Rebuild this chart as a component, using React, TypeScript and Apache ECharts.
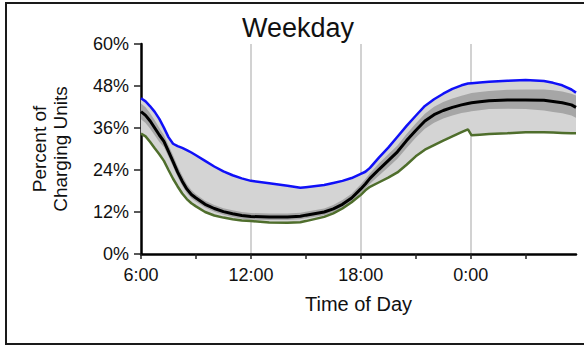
import React, { useEffect, useRef } from 'react';
import * as echarts from 'echarts';

// Hours elapsed since 6:00
const HOURS = [0, 0.25, 0.5, 0.75, 1, 1.25, 1.5, 1.75, 2, 2.25, 2.5, 2.75, 3, 3.5, 4, 4.5, 5, 5.5, 6, 7, 8, 8.7, 9, 10, 10.5, 11, 11.5, 12, 12.25, 12.5, 13, 13.5, 14, 14.5, 15, 15.5, 16, 16.5, 17, 17.5, 17.85, 18.05, 18.5, 19, 20, 21, 22, 22.5, 23, 23.5, 23.75];

// Upper bound (blue)
const UPPER = [44.5, 43.6, 42.2, 40.6, 38.6, 36.1, 33.4, 31.5, 30.8, 30.3, 29.7, 29.0, 28.2, 26.6, 25.0, 23.6, 22.5, 21.6, 20.9, 20.2, 19.5, 18.9, 19.1, 19.7, 20.3, 20.9, 21.7, 22.9, 23.5, 24.6, 27.6, 30.4, 33.5, 36.6, 39.5, 42.3, 44.2, 45.8, 47.2, 48.2, 48.7, 48.8, 49.0, 49.2, 49.5, 49.7, 49.4, 48.9, 48.2, 47.0, 46.1];

// Median (black)
const MEDIAN = [40.7, 39.6, 38.0, 36.0, 34.0, 32.2, 29.3, 26.4, 23.4, 20.8, 18.6, 17.0, 16.0, 14.2, 13.0, 12.1, 11.5, 11.0, 10.7, 10.6, 10.6, 10.8, 11.1, 12.0, 12.9, 14.2, 16.0, 18.6, 20.0, 21.6, 24.2, 26.7, 29.2, 32.4, 35.3, 38.0, 39.8, 41.0, 41.9, 42.6, 43.0, 43.2, 43.5, 43.8, 44.0, 44.0, 43.9, 43.6, 43.2, 42.6, 41.9];

// Lower bound (green)
const LOWER = [34.4, 33.6, 32.0, 30.2, 28.5, 26.6, 24.0, 21.5, 19.3, 17.3, 15.7, 14.5, 13.6, 12.0, 11.0, 10.4, 9.9, 9.6, 9.4, 9.0, 8.9, 9.1, 9.4, 10.6, 11.6, 13.0, 14.8, 16.9, 18.2, 19.2, 20.5, 21.8, 23.3, 25.5, 27.9, 29.8, 31.1, 32.4, 33.6, 34.8, 35.6, 33.9, 34.1, 34.3, 34.5, 34.8, 34.8, 34.7, 34.6, 34.5, 34.5];

// Inner band around the median (dark gray)
const BAND_HI = [43.0, 41.9, 40.2, 38.2, 36.0, 34.0, 31.1, 28.2, 25.1, 22.4, 20.0, 18.3, 17.1, 15.2, 14.0, 13.1, 12.5, 12.0, 11.7, 11.6, 11.6, 11.8, 12.1, 13.0, 14.0, 15.4, 17.2, 19.9, 21.4, 23.1, 25.9, 28.5, 31.0, 34.3, 37.3, 40.1, 42.1, 43.4, 44.4, 45.2, 45.7, 46.0, 46.3, 46.6, 46.9, 47.0, 47.0, 46.8, 46.4, 45.8, 45.3];
const BAND_LO = [38.5, 37.4, 35.8, 33.9, 32.0, 30.6, 27.8, 24.9, 22.0, 19.5, 17.4, 15.9, 15.0, 13.3, 12.1, 11.2, 10.6, 10.1, 9.8, 9.7, 9.7, 9.9, 10.2, 11.1, 11.9, 13.0, 14.8, 17.4, 18.7, 20.1, 22.4, 24.8, 27.2, 30.3, 33.2, 35.8, 37.5, 38.7, 39.6, 40.3, 40.6, 40.8, 41.1, 41.4, 41.5, 41.4, 41.0, 40.6, 40.2, 39.6, 38.9];

const X_TICKS = [0, 3, 6, 9, 12, 15, 18, 21];
const X_LABEL_VALUES = [0, 6, 12, 18];
const X_LABELS = ['6:00', '12:00', '18:00', '0:00'];
const GRID_HOURS = [6, 12, 18];
const TITLE = 'Weekday';
const X_NAME = 'Time of Day';
const Y_NAME = 'Percent of\nCharging Units';

const FONT = '"Liberation Sans", Arial, Helvetica, sans-serif';

function bandSeries(lo: number[], hi: number[], color: string, z: number) {
  return {
    type: 'custom',
    coordinateSystem: 'cartesian2d',
    z,
    silent: true,
    clip: true,
    data: HOURS.map((h, i) => [h, lo[i], hi[i]]),
    encode: { x: 0, y: [1, 2] },
    renderItem: (params: any, api: any) => {
      if (params.dataIndex !== 0) return { type: 'group', children: [] };
      const pts: number[][] = [];
      for (let i = 0; i < HOURS.length; i++) pts.push(api.coord([HOURS[i], hi[i]]));
      for (let i = HOURS.length - 1; i >= 0; i--) pts.push(api.coord([HOURS[i], lo[i]]));
      return { type: 'polygon', shape: { points: pts }, style: { fill: color } };
    },
  };
}

function lineSeries(name: string, values: number[], color: string, width: number, z: number) {
  return {
    type: 'line',
    name,
    z,
    silent: true,
    showSymbol: false,
    symbol: 'none',
    data: HOURS.map((h, i) => [h, values[i]]),
    lineStyle: { color, width },
    itemStyle: { color },
  };
}

export default function App() {
  const ref = useRef<HTMLDivElement>(null);
  useEffect(() => {
    if (!ref.current) return;
    const chart = echarts.init(ref.current, undefined, { renderer: 'svg' });
    chart.setOption({
      animation: false,
      backgroundColor: '#ffffff',
      textStyle: { fontFamily: FONT },
      grid: { left: 141, top: 44, width: 435, height: 210, containLabel: false, outerBoundsMode: 'none' },
      xAxis: {
        type: 'value',
        min: 0,
        max: 23.75,
        name: X_NAME,
        nameLocation: 'middle',
        nameGap: 40,
        nameTextStyle: { fontSize: 20, color: '#111', fontFamily: FONT },
        axisLine: { show: true, onZero: false, lineStyle: { color: '#000', width: 2.5 } },
        axisTick: { show: true, length: 5, customValues: X_TICKS, lineStyle: { color: '#222', width: 1.5 } },
        axisLabel: {
          customValues: X_LABEL_VALUES,
          formatter: (v: number) => {
            const i = X_LABEL_VALUES.indexOf(v);
            return i >= 0 ? X_LABELS[i] : '';
          },
          fontSize: 18,
          margin: 12,
          color: '#111',
          fontFamily: FONT,
        },
        splitLine: { show: false },
      },
      yAxis: {
        type: 'value',
        min: 0,
        max: 60,
        interval: 12,
        name: Y_NAME,
        nameLocation: 'middle',
        nameGap: 70,
        nameRotate: 90,
        nameTextStyle: { fontSize: 19, lineHeight: 21, color: '#111', fontFamily: FONT, align: 'center' },
        axisLine: { show: true, lineStyle: { color: '#000', width: 2.5 } },
        axisTick: { show: true, length: 7, lineStyle: { color: '#222', width: 1.5 } },
        axisLabel: { formatter: '{value}%', fontSize: 18, margin: 12, color: '#111', fontFamily: FONT },
        splitLine: { show: false },
      },
      graphic: [
        {
          type: 'rect',
          silent: true,
          z: 100,
          shape: { x: 6, y: 3, width: 600, height: 341 },
          style: { fill: 'none', stroke: '#1a1a1a', lineWidth: 2 },
        },
        {
          type: 'text',
          x: 298,
          y: 27.5,
          silent: true,
          style: { text: TITLE, fontSize: 27, fontFamily: FONT, fill: '#111', align: 'center', verticalAlign: 'middle' },
        },
      ],
      series: [
        {
          type: 'line',
          name: 'grid',
          data: [],
          z: 0,
          silent: true,
          markLine: {
            silent: true,
            z: 0,
            symbol: ['none', 'none'],
            label: { show: false },
            lineStyle: { color: '#d2d2d2', width: 2, type: 'solid' },
            data: GRID_HOURS.map((h) => ({ xAxis: h })),
          },
        },
        bandSeries(LOWER, UPPER, '#d4d4d4', 1),
        bandSeries(BAND_LO, BAND_HI, '#a6a6a6', 2),
        lineSeries('Lower', LOWER, '#4f6e2c', 2.5, 5),
        lineSeries('Upper', UPPER, '#1010f8', 2.5, 6),
        lineSeries('Median', MEDIAN, '#000000', 3, 7),
      ],
    });
    return () => chart.dispose();
  }, []);
  return (
    <div
      ref={ref}
      style={{ position: 'absolute', left: 0, top: 0, width: 584, height: 347, background: '#fff' }}
    />
  );
}
